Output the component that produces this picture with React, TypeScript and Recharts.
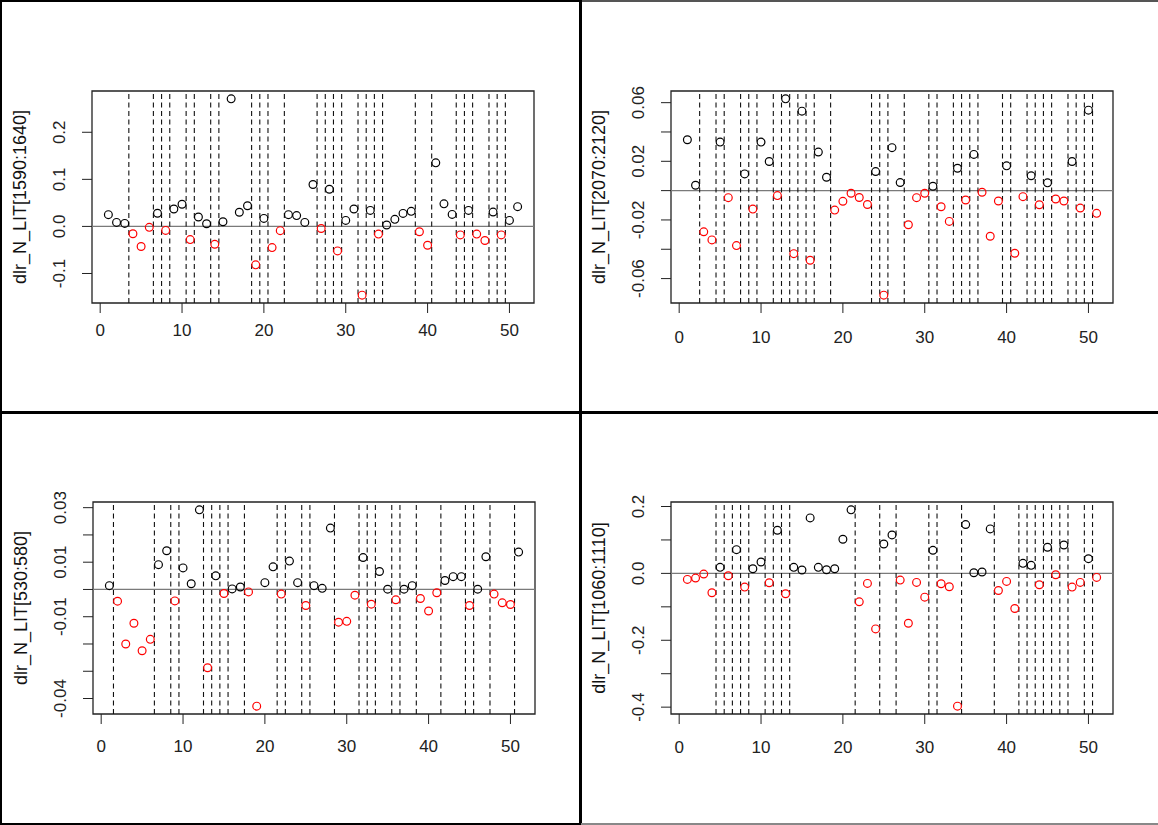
import React from 'react';
import { ScatterChart, Scatter, XAxis, YAxis, ReferenceLine, ReferenceArea } from 'recharts';

// Shared x ticks (observation index)
const indexTicks = [0, 10, 20, 30, 40, 50];

// dlr_N_LIT[1590:1640]
const lit1590 = [
  0.025, 0.0085, 0.0064, -0.0156, -0.0426, -0.002, 0.028, -0.0085, 0.037, 0.047,
  -0.028, 0.02, 0.0057, -0.038, 0.01, 0.271, 0.03, 0.044, -0.0816, 0.017,
  -0.045, -0.009, 0.025, 0.023, 0.0085, 0.089, -0.0043, 0.079, -0.052, 0.0128,
  0.037, -0.146, 0.034, -0.0163, 0.003, 0.015, 0.0277, 0.032, -0.0113, -0.04,
  0.135, 0.048, 0.0255, -0.018, 0.034, -0.0163, -0.03, 0.0305, -0.018, 0.0128,
  0.042,
];
const breaks1590 = [3.5, 6.5, 7.5, 8.5, 10.5, 11.5, 13.5, 14.5, 18.5, 19.5, 20.5, 22.5, 26.5, 27.5,
  28.5, 29.5, 31.5, 32.5, 33.5, 34.5, 38.5, 40.5, 43.5, 44.5, 45.5, 47.5, 48.5, 49.5];
const ticks1590 = [-0.1, 0, 0.1, 0.2];
const labels1590 = ['-0.1', '0.0', '0.1', '0.2'];

// dlr_N_LIT[2070:2120]
const lit2070 = [
  0.0347, 0.0037, -0.0281, -0.0336, 0.0331, -0.0048, -0.0375, 0.0114, -0.0126, 0.0331,
  0.0199, -0.0034, 0.0626, -0.043, 0.0542, -0.0475, 0.0263, 0.0091, -0.0133, -0.0073,
  -0.0018, -0.0047, -0.0095, 0.013, -0.0713, 0.0293, 0.0055, -0.0233, -0.0048, -0.0018,
  0.003, -0.011, -0.021, 0.0153, -0.0064, 0.0247, -0.0011, -0.0311, -0.0071, 0.0169,
  -0.0427, -0.0041, 0.0101, -0.0096, 0.0053, -0.0057, -0.0071, 0.0199, -0.0119, 0.0549,
  -0.0155,
];
const breaks2070 = [2.5, 4.5, 5.5, 7.5, 8.5, 9.5, 11.5, 12.5, 13.5, 14.5, 15.5, 16.5, 18.5, 23.5,
  24.5, 25.5, 27.5, 30.5, 31.5, 33.5, 34.5, 35.5, 36.5, 39.5, 40.5, 42.5, 43.5, 44.5, 45.5,
  47.5, 48.5, 49.5, 50.5];
const ticks2070 = [-0.06, -0.04, -0.02, 0, 0.02, 0.04, 0.06];
const labels2070 = ['-0.06', '', '-0.02', '', '0.02', '', '0.06'];

// dlr_N_LIT[530:580]
const lit530 = [
  0.0014, -0.0043, -0.02, -0.0124, -0.0225, -0.0183, 0.0091, 0.0142, -0.0042, 0.0079,
  0.0021, 0.0292, -0.0287, 0.005, -0.0015, 0.0002, 0.0009, -0.0009, -0.0428, 0.0025,
  0.0083, -0.0017, 0.0104, 0.0025, -0.0059, 0.0014, 0.0004, 0.0225, -0.012, -0.0117,
  -0.0021, 0.0117, -0.0054, 0.0066, 0.0001, -0.0038, 0.0001, 0.0014, -0.0033, -0.0079,
  -0.0012, 0.0033, 0.0047, 0.0047, -0.0059, 0.0001, 0.012, -0.0017, -0.0049, -0.0055,
  0.0137,
];
const breaks530 = [1.5, 6.5, 8.5, 9.5, 12.5, 13.5, 14.5, 15.5, 17.5, 21.5, 22.5, 24.5, 25.5, 28.5,
  31.5, 32.5, 33.5, 35.5, 36.5, 38.5, 41.5, 44.5, 45.5, 47.5, 50.5];
const ticks530 = [-0.04, -0.03, -0.02, -0.01, 0, 0.01, 0.02, 0.03];
const labels530 = ['-0.04', '', '', '-0.01', '', '0.01', '', '0.03'];

// dlr_N_LIT[1060:1110]
const lit1060 = [
  -0.018, -0.014, -0.002, -0.058, 0.018, -0.007, 0.071, -0.041, 0.014, 0.034,
  -0.028, 0.129, -0.061, 0.018, 0.01, 0.166, 0.018, 0.011, 0.014, 0.102,
  0.19, -0.085, -0.03, -0.166, 0.088, 0.115, -0.02, -0.149, -0.027, -0.071,
  0.069, -0.031, -0.04, -0.397, 0.146, 0.002, 0.004, 0.133, -0.051, -0.024,
  -0.105, 0.03, 0.024, -0.034, 0.078, -0.004, 0.085, -0.041, -0.027, 0.044,
  -0.012,
];
const breaks1060 = [4.5, 5.5, 6.5, 7.5, 8.5, 10.5, 11.5, 12.5, 13.5, 21.5, 24.5, 26.5, 30.5, 31.5,
  34.5, 38.5, 41.5, 42.5, 43.5, 44.5, 45.5, 46.5, 47.5, 49.5, 50.5];
const ticks1060 = [-0.4, -0.3, -0.2, -0.1, 0, 0.1, 0.2];
const labels1060 = ['-0.4', '', '-0.2', '', '0.0', '', '0.2'];

const FONT = '"Liberation Sans", Arial, Helvetica, sans-serif';
const TICK_FONT = 17;
const TITLE_FONT = 18;
const PLOT_W = 442;
const PLOT_H = 212;
const M_LEFT = 90;
const M_TOP = 10;
const M_RIGHT = 10;
const M_BOTTOM = 50;

type PanelProps = {
  left: number;
  top: number;
  title: string;
  values: number[];
  breaks: number[];
  ticks: number[];
  labels: string[];
  xLabelDy: number;
};

function Panel({ left, top, title, values, breaks, ticks, labels, xLabelDy }: PanelProps) {
  const lo = Math.min(...values);
  const hi = Math.max(...values);
  const pad = (hi - lo) * 0.04;
  const yDomain: [number, number] = [lo - pad, hi + pad];
  const points = values.map((v, i) => ({ x: i + 1, y: v }));
  const above = points.filter((p) => p.y >= 0);
  const below = points.filter((p) => p.y < 0);

  const ring = (color: string) => (p: any) => (
    <circle cx={p.cx} cy={p.cy} r={3.9} fill="none" stroke={color} strokeWidth={1.2} />
  );

  const yTick = (p: any) => {
    const idx = ticks.findIndex((t) => Math.abs(t - p.payload.value) < 1e-9);
    const text = idx >= 0 ? labels[idx] : '';
    const cx = M_LEFT - 32;
    return (
      <text
        x={cx}
        y={p.y}
        transform={`rotate(-90 ${cx} ${p.y})`}
        textAnchor="middle"
        dominantBaseline="central"
        fontFamily={FONT}
        fontSize={TICK_FONT}
        fill="#222"
      >
        {text}
      </text>
    );
  };

  const xTick = (p: any) => (
    <text
      x={p.x}
      y={M_TOP + PLOT_H + xLabelDy}
      textAnchor="middle"
      dominantBaseline="central"
      fontFamily={FONT}
      fontSize={TICK_FONT}
      fill="#222"
    >
      {p.payload.value}
    </text>
  );

  const titleLabel = () => {
    const tx = M_LEFT - 72;
    const ty = M_TOP + PLOT_H / 2;
    return (
      <text
        x={tx}
        y={ty}
        transform={`rotate(-90 ${tx} ${ty})`}
        textAnchor="middle"
        dominantBaseline="central"
        fontFamily={FONT}
        fontSize={TITLE_FONT}
        fill="#111"
      >
        {title}
      </text>
    );
  };

  return (
    <div style={{ position: 'absolute', left: left - M_LEFT, top: top - M_TOP }}>
      <ScatterChart
        width={M_LEFT + PLOT_W + M_RIGHT}
        height={M_TOP + PLOT_H + M_BOTTOM}
        margin={{ top: M_TOP, right: M_RIGHT, bottom: 0, left: 10 }}
      >
        <XAxis
          type="number"
          dataKey="x"
          domain={[-1, 53]}
          ticks={indexTicks}
          interval={0}
          allowDataOverflow
          axisLine={false}
          tickSize={10}
          tickLine={{ stroke: '#222', strokeWidth: 1 }}
          tick={xTick}
          height={M_BOTTOM}
        />
        <YAxis
          type="number"
          dataKey="y"
          domain={yDomain}
          ticks={ticks}
          interval={0}
          allowDataOverflow
          axisLine={false}
          tickSize={10}
          tickLine={{ stroke: '#222', strokeWidth: 1 }}
          tick={yTick}
          width={80}
          label={titleLabel}
        />
        <ReferenceLine y={0} stroke="#7a7a7a" strokeWidth={1.3} />
        {breaks.map((b) => (
          <ReferenceLine key={b} x={b} stroke="#111" strokeWidth={1.1} strokeDasharray="5 3.5" />
        ))}
        <Scatter data={above} isAnimationActive={false} shape={ring('#000000')} />
        <Scatter data={below} isAnimationActive={false} shape={ring('#ff0000')} />
        <ReferenceArea
          x1={-1}
          x2={53}
          y1={yDomain[0]}
          y2={yDomain[1]}
          fill="none"
          stroke="#222"
          strokeWidth={1.3}
        />
      </ScatterChart>
    </div>
  );
}

const line = (l: number, t: number, w: number, h: number, c: string) => (
  <div style={{ position: 'absolute', left: l, top: t, width: w, height: h, background: c }} />
);

export default function App() {
  return (
    <div
      style={{
        position: 'absolute',
        left: 0,
        top: 0,
        width: 1158,
        height: 825,
        background: '#fff',
        overflow: 'hidden',
      }}
    >
      <Panel left={92} top={91} title="dlr_N_LIT[1590:1640]" values={lit1590} breaks={breaks1590}
        ticks={ticks1590} labels={labels1590} xLabelDy={27} />
      <Panel left={670.5} top={91} title="dlr_N_LIT[2070:2120]" values={lit2070} breaks={breaks2070}
        ticks={ticks2070} labels={labels2070} xLabelDy={34} />
      <Panel left={92.5} top={502} title="dlr_N_LIT[530:580]" values={lit530} breaks={breaks530}
        ticks={ticks530} labels={labels530} xLabelDy={32} />
      <Panel left={670.5} top={502} title="dlr_N_LIT[1060:1110]" values={lit1060} breaks={breaks1060}
        ticks={ticks1060} labels={labels1060} xLabelDy={33} />

      {line(0, 0, 581, 2, '#000')}
      {line(581, 0, 577, 2, '#555')}
      {line(0, 0, 2, 825, '#000')}
      {line(579, 0, 3, 825, '#000')}
      {line(0, 411, 1158, 3, '#000')}
      {line(0, 823, 581, 2, '#000')}
      {line(581, 823, 577, 2, '#888')}
    </div>
  );
}
